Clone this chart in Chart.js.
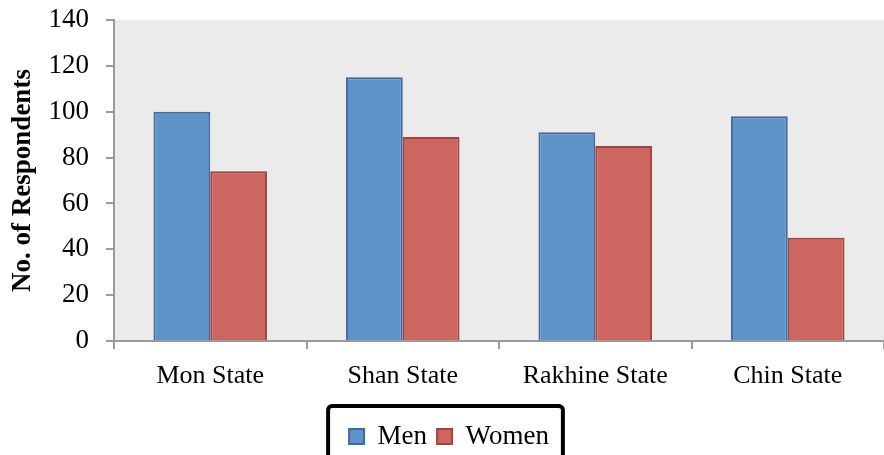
<!DOCTYPE html>
<html>
<head>
<meta charset="utf-8">
<script src="https://cdn.jsdelivr.net/npm/chart.js@4.4.0/dist/chart.umd.min.js"></script>
<style>
  html, body { margin: 0; padding: 0; background: #ffffff; }
  #wrap { width: 884px; height: 455px; }
</style>
</head>
<body>
<div id="wrap"><canvas id="c" width="884" height="455"></canvas></div>
<script>
// Survey respondents by state and sex
const states = ['Mon State', 'Shan State', 'Rakhine State', 'Chin State'];
const men = [100, 115, 91, 98];
const women = [74, 89, 85, 45];
const yTicks = [0, 20, 40, 60, 80, 100, 120, 140];

const FONT = 'Liberation Serif, serif';
const LEGEND_DROP = 5;   // legend sits a little lower, partly past the bottom edge
const LEGEND_SHIFT = 7;  // and slightly right of centre

// Light grey plot area and a heavy rounded frame round the legend
const decor = {
  id: 'decor',
  afterLayout(chart) {
    const lg = chart.legend;
    if (lg) {
      lg.top += LEGEND_DROP; lg.bottom += LEGEND_DROP;
      lg.left += LEGEND_SHIFT; lg.right += LEGEND_SHIFT;
    }
  },
  beforeDraw(chart) {
    const { ctx, chartArea: a } = chart;
    ctx.save();
    ctx.fillStyle = '#ebebeb';
    ctx.fillRect(a.left, a.top, a.right - a.left, a.bottom - a.top);
    ctx.restore();
  },
  afterDraw(chart) {
    const lg = chart.legend;
    if (!lg || !lg.legendHitBoxes || !lg.legendHitBoxes.length) return;
    const boxes = lg.legendHitBoxes;
    const x0 = Math.min(...boxes.map(b => b.left)) - 21;
    const x1 = Math.max(...boxes.map(b => b.left + b.width)) + 14;
    const y0 = 406;
    const y1 = 470;
    const ctx = chart.ctx;
    ctx.save();
    ctx.strokeStyle = '#000';
    ctx.lineWidth = 4;
    ctx.beginPath();
    ctx.roundRect(x0, y0, x1 - x0, y1 - y0, 4);
    ctx.stroke();
    ctx.restore();
  }
};

new Chart(document.getElementById('c'), {
  type: 'bar',
  data: {
    labels: states,
    datasets: [
      {
        label: 'Men',
        data: men,
        backgroundColor: '#5f94c9',
        borderColor: '#41699d',
        borderWidth: 2
      },
      {
        label: 'Women',
        data: women,
        backgroundColor: '#cd6560',
        borderColor: '#9f4440',
        borderWidth: 2
      }
    ]
  },
  options: {
    responsive: false,
    animation: false,
    devicePixelRatio: 1,
    layout: { padding: { top: 20, right: 0, left: 0, bottom: 0 } },
    datasets: {
      bar: { categoryPercentage: 0.59, barPercentage: 1.0 }
    },
    scales: {
      x: {
        grid: {
          offset: true,
          drawOnChartArea: false,
          drawTicks: true,
          tickLength: 8,
          color: '#9a9a9a',
          lineWidth: 2
        },
        border: { color: '#9a9a9a', width: 2 },
        ticks: {
          color: '#000',
          font: { family: FONT, size: 26 },
          padding: 12
        },
        afterFit(scale) { scale.height = 67; }
      },
      y: {
        min: 0,
        max: 140,
        afterBuildTicks(scale) { scale.ticks = yTicks.map(v => ({ value: v })); },
        grid: {
          drawOnChartArea: false,
          drawTicks: true,
          tickLength: 8,
          color: '#9a9a9a',
          lineWidth: 2
        },
        border: { color: '#9a9a9a', width: 2 },
        ticks: {
          color: '#000',
          font: { family: FONT, size: 27 },
          padding: 17
        },
        title: {
          display: true,
          text: 'No. of Respondents',
          color: '#000',
          font: { family: FONT, size: 27, weight: 'bold' },
          padding: { top: 7, bottom: 0 }
        },
        afterFit(scale) {
          scale.width = 114;
          // half a label of room above the top tick is enough
          scale.paddingTop = 16;
          scale.paddingBottom = 16;
        }
      }
    },
    plugins: {
      legend: {
        position: 'bottom',
        labels: {
          color: '#000',
          font: { family: FONT, size: 27 },
          boxWidth: 15,
          boxHeight: 15,
          padding: 10
        }
      },
      tooltip: { enabled: false }
    }
  },
  plugins: [decor]
});
</script>
</body>
</html>
